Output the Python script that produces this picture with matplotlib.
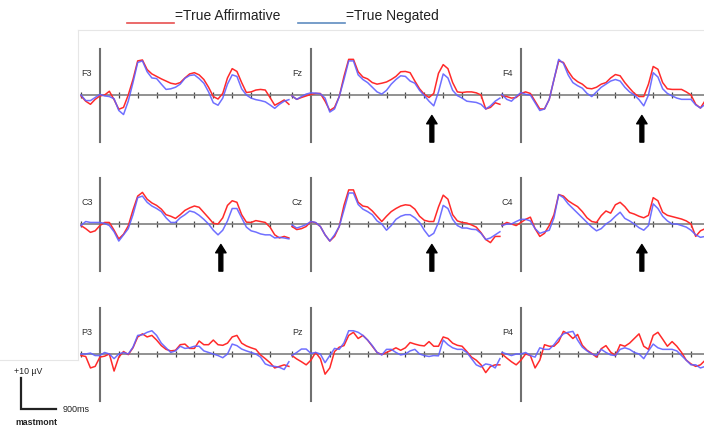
import matplotlib
matplotlib.use("Agg")
import matplotlib.pyplot as plt
from matplotlib.lines import Line2D

plt.rcParams['font.family'] = ['Liberation Sans', 'DejaVu Sans']

W, H = 704, 427

# time axis (ms)
times = list(range(-100, 1001, 25))

electrodes = ["F3", "Fz", "F4", "C3", "Cz", "C4", "P3", "Pz", "P4"]

# amplitudes in microvolts (positive up)
F3_aff = [-0.3, -2.0, -3.0, -1.4, -0.3, 0.0, 1.2, -1.5, -4.6, -4.0, 0.0, 5.0, 11.0, 11.3, 8.2, 6.8, 6.0, 5.2, 4.5, 3.8, 3.5, 4.0, 5.5, 6.8, 7.2, 6.5, 5.0, 2.5, -0.5, -1.3, 0.5, 5.5, 8.5, 7.6, 4.0, 0.8, 1.0, 1.6, 1.8, 1.6, -0.8, -3.3, -2.5, -1.6, -3.0]
F3_neg = [0.0, -1.8, -1.8, -0.8, 0.2, -0.3, -0.5, -1.2, -5.0, -6.3, -2.0, 4.0, 10.5, 11.0, 7.5, 5.5, 5.3, 3.5, 1.8, 2.0, 2.5, 3.5, 5.4, 6.3, 6.5, 5.3, 3.8, 1.0, -2.5, -3.3, -1.0, 3.5, 6.5, 6.0, 2.0, 0.0, -1.0, -1.5, -1.8, -2.2, -3.2, -4.3, -3.0, -2.0, -1.5]

Fz_aff = [-0.3, -1.4, -0.8, -0.3, 0.2, 0.5, 0.5, -2.0, -5.0, -4.0, -0.5, 6.0, 11.5, 11.5, 7.5, 5.8, 5.2, 4.0, 3.5, 3.8, 4.2, 5.0, 6.0, 7.5, 7.6, 7.2, 4.5, 2.0, 0.2, -0.8, 0.5, 7.0, 9.8, 8.5, 4.0, 1.0, 0.8, 1.0, 1.0, 0.7, 0.0, -4.5, -4.0, -2.5, -3.0]
Fz_neg = [-0.3, -1.4, -0.5, 0.3, 0.7, 0.6, 0.4, -1.0, -5.5, -4.5, -0.5, 5.0, 11.0, 11.0, 6.5, 5.0, 4.0, 2.5, 1.0, 0.3, 1.5, 3.5, 5.0, 6.2, 6.0, 4.5, 3.8, 1.5, -0.2, -2.0, -3.5, 1.0, 6.8, 5.5, 1.5, -0.2, -1.0, -2.0, -2.2, -2.4, -3.0, -4.5, -3.5, -2.0, -1.0]

F4_aff = [-0.3, -0.5, -1.0, -0.8, 0.5, 1.0, 0.5, -2.0, -4.5, -4.5, -1.4, 5.0, 11.0, 10.5, 7.7, 5.5, 4.3, 3.5, 2.2, 2.0, 2.5, 3.5, 4.0, 5.5, 6.6, 6.2, 4.0, 2.2, 0.5, -0.5, -0.5, 3.5, 9.2, 8.3, 4.0, 2.0, 1.8, 1.8, 1.8, 1.0, 0.0, -3.0, -4.2, -1.8, -1.0]
F4_neg = [0.2, -1.4, -2.0, -0.5, 0.8, 0.2, 0.0, -2.5, -5.0, -4.5, -1.4, 5.0, 11.5, 10.2, 6.5, 4.0, 3.0, 2.2, 0.5, -0.5, 1.0, 2.5, 3.5, 4.5, 5.0, 4.5, 2.5, 1.0, 0.0, -1.5, -3.5, 0.0, 7.2, 5.8, 2.0, 0.5, -0.3, -1.0, -1.4, -1.4, -1.4, -3.2, -4.2, -3.0, -2.5]

C3_aff = [-0.5, -1.5, -2.7, -2.2, -0.5, 0.5, 0.5, -2.0, -4.8, -3.3, -0.6, 4.5, 9.0, 10.2, 8.0, 6.8, 6.0, 4.8, 3.0, 2.5, 1.8, 3.0, 4.4, 5.2, 5.8, 5.4, 3.7, 2.0, 0.2, 0.0, 2.0, 6.0, 7.5, 7.0, 3.0, 0.6, 0.5, 1.1, 0.8, 0.5, -1.0, -3.5, -4.5, -4.0, -4.5]
C3_neg = [-0.5, 0.8, 0.5, 0.5, 0.5, 0.2, -0.5, -2.5, -5.5, -3.5, -1.5, 3.0, 8.5, 9.0, 7.0, 5.8, 5.0, 4.0, 2.0, 0.5, 0.5, 2.0, 3.0, 4.2, 3.8, 2.8, 1.5, 0.0, -2.0, -3.5, -2.0, 1.0, 5.0, 5.0, 2.0, -1.0, -2.2, -2.6, -3.2, -3.5, -3.5, -4.5, -4.3, -4.5, -4.8]

Cz_aff = [-0.8, -1.8, -1.5, -0.8, 0.8, 0.4, -0.8, -3.5, -5.5, -4.0, -0.8, 6.0, 11.0, 11.0, 7.0, 5.8, 5.5, 4.2, 2.5, 0.8, 2.5, 4.0, 5.0, 5.8, 6.2, 6.0, 4.8, 2.5, 1.2, 0.8, 0.8, 5.5, 9.3, 8.0, 3.0, 1.0, 0.5, 0.3, -0.3, -1.0, -2.8, -5.0, -6.0, -4.0, -4.0]
Cz_neg = [-0.3, -1.3, -0.8, -0.2, 0.8, 0.5, -0.8, -3.5, -5.5, -3.5, -0.8, 4.5, 10.0, 10.0, 6.3, 4.8, 4.0, 3.0, 1.0, 0.0, -2.0, -0.5, 1.5, 2.5, 3.0, 3.0, 2.0, 0.5, -2.0, -4.0, -3.0, 0.5, 6.0, 5.0, 1.5, -0.5, -1.3, -1.3, -1.7, -1.8, -3.0, -5.0, -4.5, -3.5, -2.5]

C4_aff = [-0.5, 0.5, 0.0, -0.5, 0.5, 1.5, 2.2, -1.5, -4.0, -3.0, -0.5, 3.0, 9.5, 9.0, 7.5, 6.5, 5.6, 4.0, 2.0, 0.8, 0.5, 2.7, 4.2, 3.5, 6.2, 7.0, 5.6, 3.7, 3.2, 2.5, 2.0, 2.8, 8.5, 7.5, 3.8, 2.8, 2.4, 2.0, 1.6, 1.0, 0.0, -4.0, -2.2, -1.5, -1.5]
C4_neg = [-0.5, 0.0, 0.0, 0.8, 1.5, 1.5, 1.0, -1.5, -3.0, -2.5, -2.0, 2.0, 9.5, 8.5, 6.5, 5.0, 3.5, 2.0, 0.5, -1.0, -2.2, -1.5, 0.0, 1.0, 2.5, 3.8, 1.8, 1.0, 0.0, -1.2, -2.0, -0.5, 6.5, 5.0, 2.5, 1.0, 0.0, 0.0, -0.5, -1.0, -2.0, -3.5, -4.3, -4.0, -4.0]

P3_aff = [-0.5, -0.8, -4.5, -4.0, -1.0, -0.7, 0.0, -5.5, -1.0, 0.8, -0.2, 2.0, 5.5, 6.5, 5.5, 6.0, 4.5, 2.7, 1.5, 1.0, 1.2, 3.0, 3.2, 1.8, 1.8, 4.2, 3.0, 3.0, 4.5, 3.0, 2.8, 3.5, 5.5, 6.0, 3.5, 2.6, 2.0, 1.5, -0.3, -1.5, -2.8, -4.5, -4.0, -3.5, -4.0]
P3_neg = [0.0, 0.0, 0.3, -0.5, -0.5, 0.5, 0.0, -1.5, 0.0, 0.5, 0.0, 2.2, 6.0, 6.2, 7.0, 7.5, 6.0, 3.5, 2.0, 0.5, 1.0, 2.5, 1.8, 2.0, 2.5, 2.5, 1.0, 0.5, 0.0, -0.5, -1.2, 0.0, 3.2, 2.7, 1.6, 1.0, 0.5, 0.0, -1.0, -3.2, -3.8, -4.0, -4.3, -5.0, -2.5]

Pz_aff = [-0.5, -1.6, -2.5, -3.5, -2.0, 0.5, -1.5, -6.5, -4.5, 0.8, 2.2, 2.7, 6.0, 7.0, 5.0, 6.0, 4.5, 2.5, 0.5, -0.2, 0.5, 1.2, 2.0, 1.2, 2.0, 3.7, 3.2, 2.8, 2.6, 4.0, 2.5, 2.5, 5.5, 5.0, 3.5, 2.8, 2.5, 0.8, -1.0, -2.0, -3.5, -6.0, -4.0, -3.5, -3.5]
Pz_neg = [-0.5, 0.5, 1.6, 1.6, 0.2, 0.5, 0.0, -2.8, -0.5, 1.8, 1.5, 3.6, 7.5, 7.5, 7.0, 6.0, 4.5, 2.7, 0.5, -0.3, 1.5, 1.5, 0.5, -0.3, 0.0, 1.0, 1.5, 0.0, -0.5, -0.8, -0.5, -0.6, 4.5, 3.0, 2.0, 1.5, 1.5, 0.5, -1.5, -3.5, -4.2, -3.2, -3.5, -4.5, -1.5]

P4_aff = [0.0, -1.3, -2.5, -3.5, -2.0, 0.0, -0.5, -4.5, -2.0, 3.0, 2.5, 2.5, 4.0, 7.3, 6.5, 5.0, 6.3, 2.8, 1.2, 0.2, -1.0, 1.7, 2.7, 0.6, -0.5, 3.0, 2.5, 3.5, 5.0, 6.5, 2.5, 1.5, 6.0, 7.0, 4.8, 2.5, 4.0, 2.5, 0.5, -2.0, -3.2, -4.0, -3.5, -2.0, -2.5]
P4_neg = [0.5, 0.0, -0.5, 0.0, 0.0, 0.5, -0.5, -1.0, 2.0, 1.5, 1.5, 3.0, 5.0, 6.5, 7.0, 7.3, 4.5, 2.2, 1.0, 0.0, -0.5, 1.5, 0.5, -0.3, -0.5, 1.5, 2.0, 1.5, 0.5, 0.0, -1.5, 1.0, 3.2, 2.0, 1.5, 1.5, 1.5, 1.0, -0.5, -2.0, -3.5, -3.5, -4.5, -4.0, -3.5]

affirmative = [F3_aff, Fz_aff, F4_aff, C3_aff, Cz_aff, C4_aff, P3_aff, Pz_aff, P4_aff]
negated = [F3_neg, Fz_neg, F4_neg, C3_neg, Cz_neg, C4_neg, P3_neg, Pz_neg, P4_neg]

tick_ms = [-100, 100, 200, 300, 400, 500, 600, 700, 800, 900]
arrow_panels = ["Fz", "F4", "C3", "Cz", "C4"]
arrow_ms = 640

RED = "#ff2a2a"
BLUE = "#6060ff"

fig = plt.figure(figsize=(W / 100, H / 100), dpi=100)
fig.patch.set_facecolor("white")

col_left = [81, 292, 502]      # pixel x of -100 ms
row_base = [96, 225, 355]      # pixel y of 0 uV
px_per_ms = 0.189
px_per_uv = 3.1
XMIN, XMAX = -100, 1010
YLIM = 15

for i, name in enumerate(electrodes):
    r, c = divmod(i, 3)
    wpx = (XMAX - XMIN) * px_per_ms
    hpx = 2 * YLIM * px_per_uv
    left = col_left[c] / W
    bottom = (H - (row_base[r] + hpx / 2)) / H
    ax = fig.add_axes([left, bottom, wpx / W, hpx / H])
    ax.set_xlim(XMIN, XMAX)
    ax.set_ylim(-YLIM, YLIM)
    ax.patch.set_alpha(0)
    for s in ["top", "right"]:
        ax.spines[s].set_visible(False)
    ax.spines["bottom"].set_position(("data", 0))
    ax.spines["bottom"].set_color("#7f7f7f")
    ax.spines["bottom"].set_linewidth(1.2)
    ax.spines["left"].set_position(("data", 0))
    ax.spines["left"].set_color("#707070")
    ax.spines["left"].set_linewidth(1.5)
    ax.set_xticks(tick_ms)
    ax.set_yticks([])
    ax.tick_params(axis="x", direction="inout", length=5, width=0.9,
                   color="#444444", labelbottom=False)
    ax.plot(times, affirmative[i], color=RED, lw=1.1, clip_on=False, zorder=3)
    ax.plot(times, negated[i], color=BLUE, lw=1.1, alpha=0.9, clip_on=False,
            zorder=4)
    ax.text(XMIN, 7.4, name, fontsize=6.5, color="#333333",
            ha="left", va="center")
    if name in arrow_panels:
        ax.annotate("", xy=(arrow_ms, -6.6), xytext=(arrow_ms, -15.2),
                    arrowprops=dict(width=2.8, headwidth=7.5, headlength=6,
                                    color="black", shrink=0),
                    annotation_clip=False, zorder=5)

def fx(px):
    return px / W

def fy(py):
    return 1 - py / H

# faint frame of the original picture
frame = dict(color="#e6e6e6", lw=0.8, transform=fig.transFigure)
fig.add_artist(Line2D([fx(78), fx(704)], [fy(31), fy(31)], **frame))
fig.add_artist(Line2D([fx(78), fx(78)], [fy(31), fy(361)], **frame))
fig.add_artist(Line2D([fx(0), fx(78)], [fy(361), fy(361)], **frame))

# legend
fig.add_artist(Line2D([fx(127), fx(174)], [fy(24), fy(24)], color="#e85050",
                      lw=1.2, transform=fig.transFigure))
fig.text(fx(175), fy(16), "=True Affirmative", fontsize=10, ha="left",
         va="center", color="#222222")
fig.add_artist(Line2D([fx(298), fx(345)], [fy(24), fy(24)], color="#5f8cc0",
                      lw=1.2, transform=fig.transFigure))
fig.text(fx(346), fy(16), "=True Negated", fontsize=10, ha="left",
         va="center", color="#222222")

# scale bar
fig.add_artist(Line2D([fx(21), fx(21), fx(56)], [fy(379), fy(410), fy(410)],
                      color="#222222", lw=1.6, transform=fig.transFigure,
                      solid_joinstyle="miter"))
fig.text(fx(14), fy(372), "+10 \u00b5V", fontsize=6.3, ha="left", va="center",
         color="#222222")
fig.text(fx(63), fy(410), "900ms", fontsize=6.5, ha="left", va="center",
         color="#222222")
fig.text(fx(15), fy(423), "mastmont", fontsize=6.3, fontweight="bold",
         ha="left", va="center", color="#222222")

fig.savefig("out.png", dpi=100, facecolor="white")
